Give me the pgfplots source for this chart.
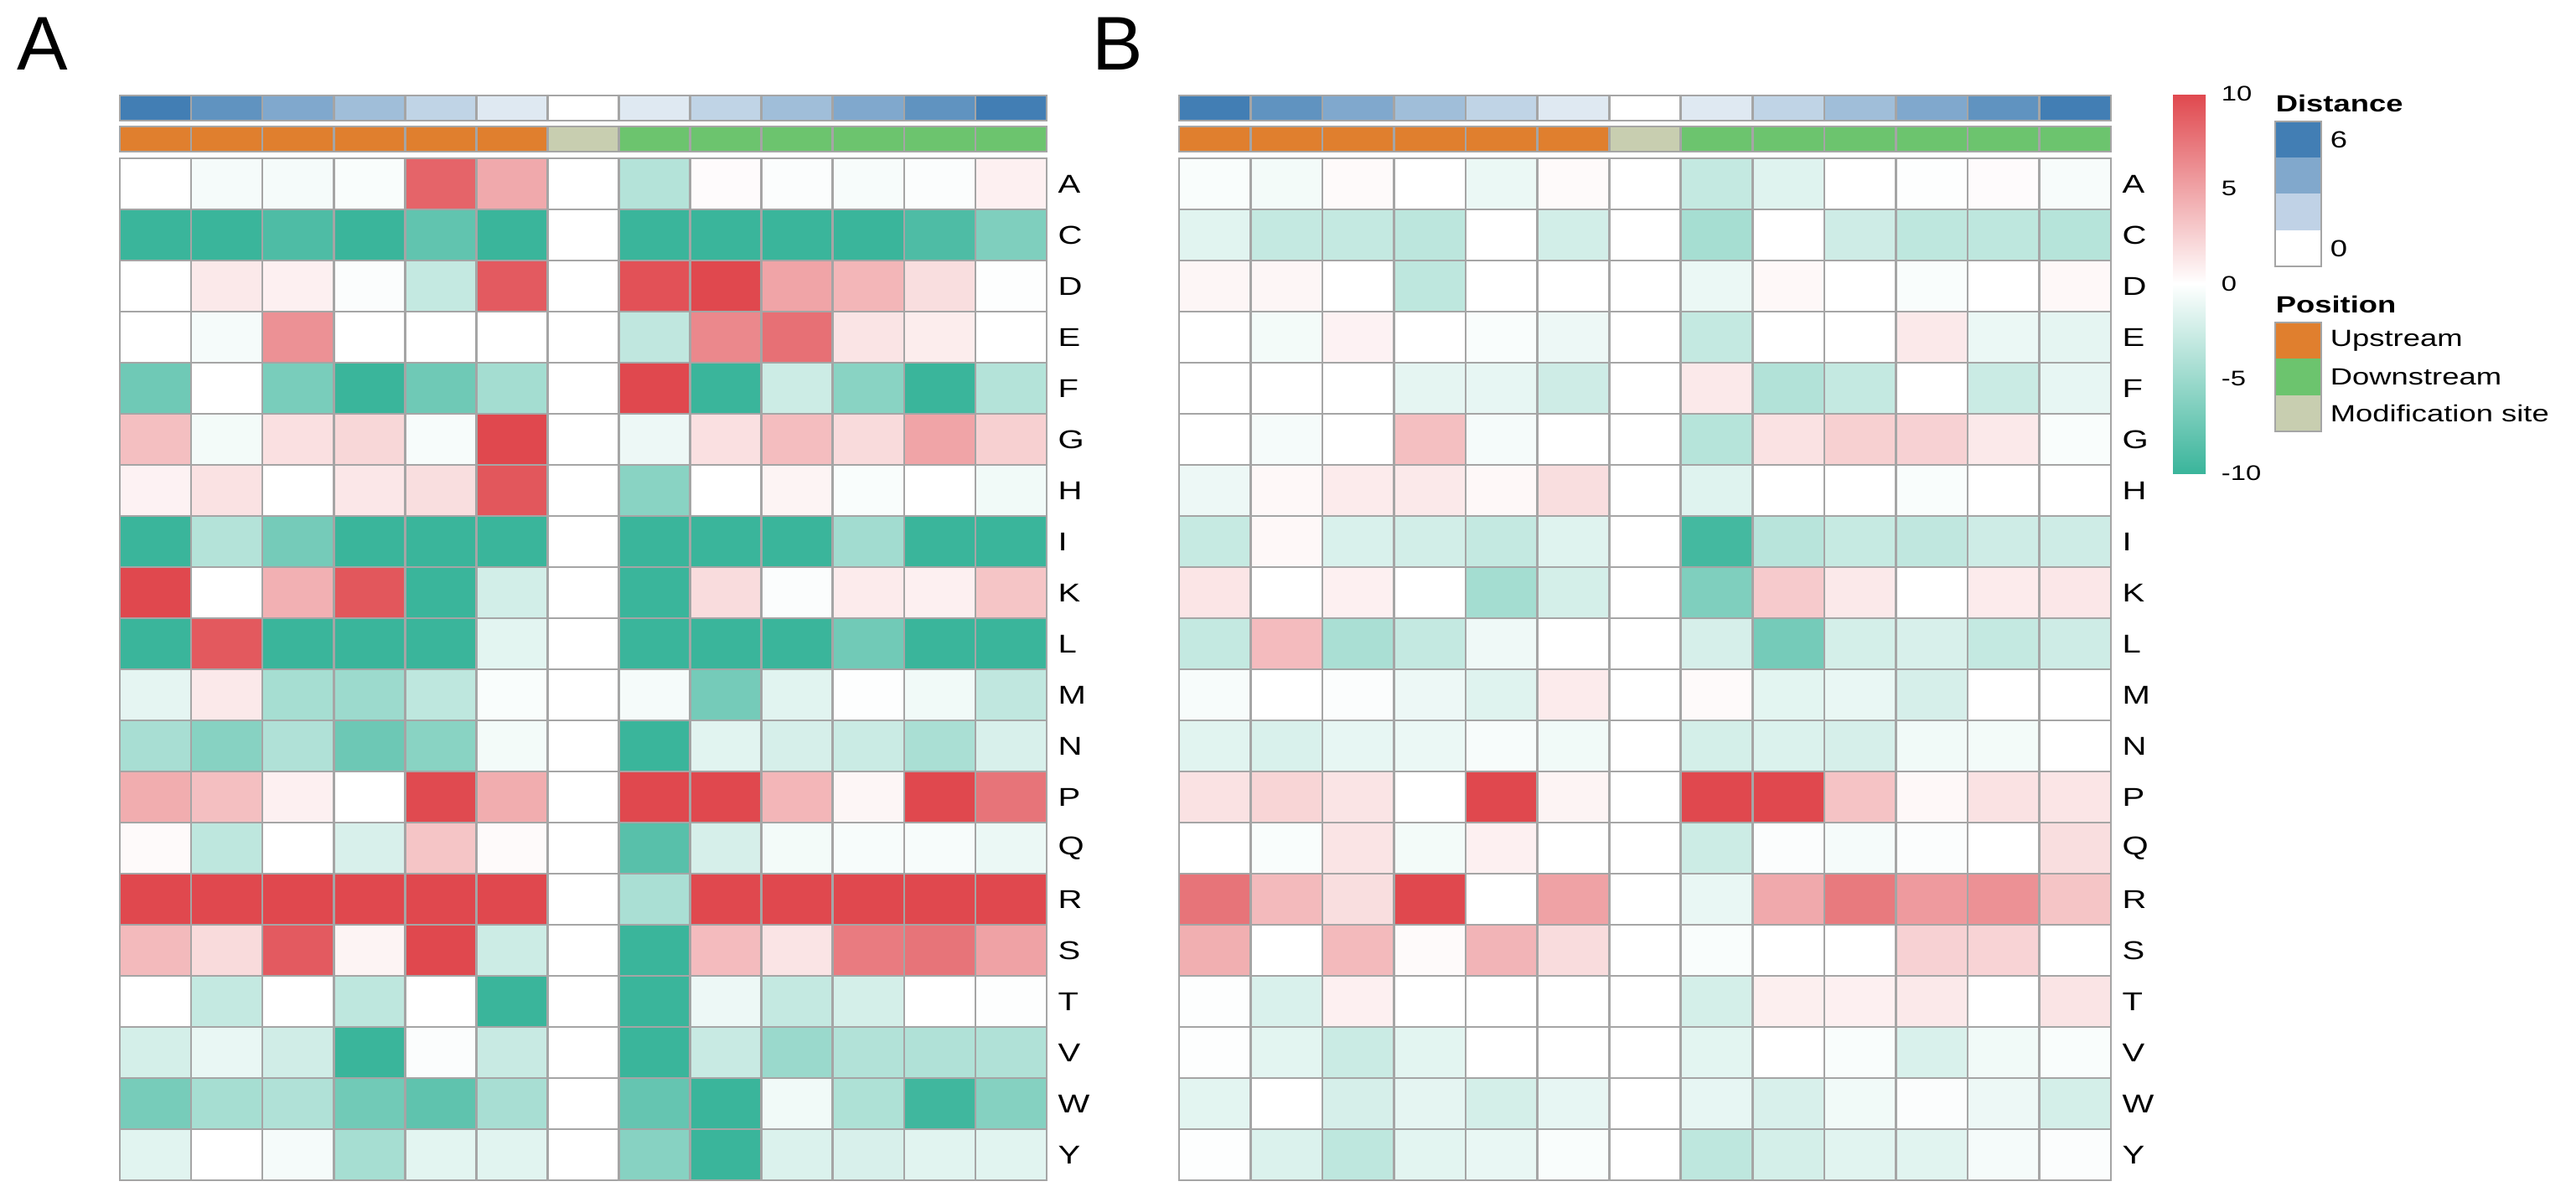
\documentclass[border=0pt]{standalone}
\usepackage{pgfplots}
\pgfplotsset{compat=1.18}
\usepackage{fontspec}
\setmainfont{Liberation Sans}[FakeStretch=1.3]
\newfontfamily\panelfont{Liberation Sans}
\definecolor{gridgray}{RGB}{165,165,165}
\definecolor{dist6}{RGB}{66,126,180}
\definecolor{dist4}{RGB}{129,168,204}
\definecolor{dist2}{RGB}{192,210,230}
\definecolor{upc}{RGB}{224,127,46}
\definecolor{downc}{RGB}{108,196,110}
\definecolor{modc}{RGB}{200,206,176}
\pgfplotsset{
  heatbase/.style={
    scale only axis, anchor=north west,
    xmin=-0.5, xmax=12.5, ymin=-0.5, ymax=19.5, y dir=reverse,
    height=305pt,
    xtick={-0.5,0.5,...,12.5}, xticklabels={},
    xmajorgrids,
    ytick={0,...,19},
    yticklabels={A,C,D,E,F,G,H,I,K,L,M,N,P,Q,R,S,T,V,W,Y},
    yticklabel pos=right,
    yticklabel style={font=\fontsize{7.7}{9}\selectfont, anchor=west, inner sep=0pt, xshift=3.2pt},
    major tick length=0pt, minor tick length=0pt,
    minor ytick={-0.5,0.5,...,19.5},
    yminorgrids,
    major grid style={gridgray, line width=0.65pt},
    minor grid style={gridgray, line width=0.65pt},
    axis line style={gridgray, line width=0.65pt},
    axis on top,
    colormap={heat}{rgb255=(58,181,155) rgb255=(255,255,255) rgb255=(224,72,78)},
    point meta min=-10, point meta max=10,
  },
  annobase/.style={
    scale only axis, anchor=north west,
    xmin=-0.5, xmax=12.5, ymin=-0.5, ymax=1.5,
    height=7.5pt,
    xtick={-0.5,0.5,...,12.5}, xticklabels={},
    ytick=\empty,
    minor tick length=0pt, major tick length=0pt,
    xmajorgrids,
    major grid style={gridgray, line width=0.65pt},
    axis line style={gridgray, line width=0.65pt},
    axis on top,
  },
  distrow/.style={
    colormap={dist}{rgb255=(255,255,255) rgb255=(66,126,180)},
    point meta min=0, point meta max=6,
  },
  posrow/.style={
    colormap={pos}{rgb255=(224,127,46) rgb255=(200,206,176) rgb255=(108,196,110)},
    point meta min=0, point meta max=2,
  },
}
\begin{document}
\begin{tikzpicture}
\path[use as bounding box] (0,0) rectangle (768.5pt,-357pt);

% ---------- Panel A ----------
\node[anchor=base west, inner sep=0pt, font=\panelfont\fontsize{22.7}{26}\selectfont] at (5pt,-20.75pt) {A};

\begin{axis}[annobase, distrow, at={(35.75pt,-28.5pt)}, width=276.5pt]
\addplot[matrix plot*, mesh/cols=13, point meta=explicit] coordinates {
(0,0)[6] (1,0)[5] (2,0)[4] (3,0)[3] (4,0)[2] (5,0)[1] (6,0)[0] (7,0)[1] (8,0)[2] (9,0)[3] (10,0)[4] (11,0)[5] (12,0)[6]
(0,1)[6] (1,1)[5] (2,1)[4] (3,1)[3] (4,1)[2] (5,1)[1] (6,1)[0] (7,1)[1] (8,1)[2] (9,1)[3] (10,1)[4] (11,1)[5] (12,1)[6]
};
\end{axis}

\begin{axis}[annobase, posrow, at={(35.75pt,-37.75pt)}, width=276.5pt]
\addplot[matrix plot*, mesh/cols=13, point meta=explicit] coordinates {
(0,0)[0] (1,0)[0] (2,0)[0] (3,0)[0] (4,0)[0] (5,0)[0] (6,0)[1] (7,0)[2] (8,0)[2] (9,0)[2] (10,0)[2] (11,0)[2] (12,0)[2]
(0,1)[0] (1,1)[0] (2,1)[0] (3,1)[0] (4,1)[0] (5,1)[0] (6,1)[1] (7,1)[2] (8,1)[2] (9,1)[2] (10,1)[2] (11,1)[2] (12,1)[2]
};
\end{axis}

\begin{axis}[heatbase, at={(35.75pt,-47.25pt)}, width=276.5pt]
\addplot[matrix plot*, mesh/cols=13, point meta=explicit] coordinates {
(0,0)[0] (1,0)[-0.5] (2,0)[-0.5] (3,0)[-0.3] (4,0)[8.5] (5,0)[4.7] (6,0)[0] (7,0)[-3.8] (8,0)[0.2] (9,0)[-0.2] (10,0)[-0.4] (11,0)[-0.2] (12,0)[0.8]
(0,1)[-10] (1,1)[-10] (2,1)[-9] (3,1)[-10] (4,1)[-8] (5,1)[-10] (6,1)[0] (7,1)[-10] (8,1)[-10] (9,1)[-10] (10,1)[-10] (11,1)[-9] (12,1)[-6.5]
(0,2)[0] (1,2)[1.2] (2,2)[0.8] (3,2)[-0.2] (4,2)[-3] (5,2)[9] (6,2)[0] (7,2)[9.5] (8,2)[10] (9,2)[5] (10,2)[4] (11,2)[1.8] (12,2)[-0.1]
(0,3)[0] (1,3)[-0.5] (2,3)[6] (3,3)[0] (4,3)[0] (5,3)[0] (6,3)[0] (7,3)[-3.2] (8,3)[6.5] (9,3)[7.8] (10,3)[1.5] (11,3)[1] (12,3)[0]
(0,4)[-7.3] (1,4)[0] (2,4)[-6.8] (3,4)[-10] (4,4)[-7.3] (5,4)[-4.6] (6,4)[0] (7,4)[10] (8,4)[-10] (9,4)[-2.6] (10,4)[-6] (11,4)[-10] (12,4)[-3.8]
(0,5)[3.5] (1,5)[-0.6] (2,5)[1.7] (3,5)[2.2] (4,5)[-0.4] (5,5)[10] (6,5)[0] (7,5)[-0.9] (8,5)[1.7] (9,5)[3.6] (10,5)[2] (11,5)[5] (12,5)[2.6]
(0,6)[0.7] (1,6)[1.6] (2,6)[0] (3,6)[1.3] (4,6)[1.8] (5,6)[9.2] (6,6)[0] (7,6)[-6] (8,6)[0] (9,6)[0.6] (10,6)[-0.3] (11,6)[0] (12,6)[-0.7]
(0,7)[-10] (1,7)[-3.8] (2,7)[-7] (3,7)[-10] (4,7)[-10] (5,7)[-10] (6,7)[0] (7,7)[-10] (8,7)[-10] (9,7)[-10] (10,7)[-4.7] (11,7)[-10] (12,7)[-10]
(0,8)[10] (1,8)[0] (2,8)[4.3] (3,8)[9.2] (4,8)[-10] (5,8)[-2.3] (6,8)[0] (7,8)[-10] (8,8)[1.9] (9,8)[-0.2] (10,8)[1.1] (11,8)[0.8] (12,8)[3.2]
(0,9)[-10] (1,9)[9.1] (2,9)[-10] (3,9)[-10] (4,9)[-10] (5,9)[-1.4] (6,9)[0] (7,9)[-10] (8,9)[-10] (9,9)[-10] (10,9)[-7.2] (11,9)[-10] (12,9)[-10]
(0,10)[-1.3] (1,10)[1.2] (2,10)[-4.5] (3,10)[-5] (4,10)[-3.3] (5,10)[-0.3] (6,10)[0] (7,10)[-0.5] (8,10)[-7] (9,10)[-1.5] (10,10)[-0.1] (11,10)[-0.7] (12,10)[-3.2]
(0,11)[-4.4] (1,11)[-6.1] (2,11)[-4] (3,11)[-7.4] (4,11)[-6] (5,11)[-0.6] (6,11)[0] (7,11)[-10] (8,11)[-1.5] (9,11)[-2.1] (10,11)[-2.7] (11,11)[-4.3] (12,11)[-2]
(0,12)[4.5] (1,12)[3.5] (2,12)[0.8] (3,12)[0] (4,12)[9.9] (5,12)[4.5] (6,12)[0] (7,12)[10] (8,12)[10] (9,12)[4] (10,12)[0.5] (11,12)[10] (12,12)[7.6]
(0,13)[0.3] (1,13)[-3.3] (2,13)[0] (3,13)[-2] (4,13)[3.2] (5,13)[0.3] (6,13)[0] (7,13)[-8.5] (8,13)[-2.1] (9,13)[-0.6] (10,13)[-0.4] (11,13)[-0.4] (12,13)[-1]
(0,14)[10] (1,14)[10] (2,14)[10] (3,14)[10] (4,14)[10] (5,14)[10] (6,14)[0] (7,14)[-4.3] (8,14)[10] (9,14)[10] (10,14)[10] (11,14)[10] (12,14)[10]
(0,15)[3.8] (1,15)[2] (2,15)[9] (3,15)[0.6] (4,15)[10] (5,15)[-2.6] (6,15)[0] (7,15)[-10] (8,15)[3.7] (9,15)[1.5] (10,15)[7.2] (11,15)[7.6] (12,15)[5.1]
(0,16)[0] (1,16)[-3] (2,16)[0] (3,16)[-3.3] (4,16)[0] (5,16)[-10] (6,16)[0] (7,16)[-10] (8,16)[-0.9] (9,16)[-3] (10,16)[-2.2] (11,16)[0] (12,16)[-0.1]
(0,17)[-2.2] (1,17)[-1.1] (2,17)[-2.4] (3,17)[-10] (4,17)[-0.2] (5,17)[-2.8] (6,17)[0] (7,17)[-10] (8,17)[-2.8] (9,17)[-5.1] (10,17)[-3.9] (11,17)[-4] (12,17)[-4]
(0,18)[-6.9] (1,18)[-4.5] (2,18)[-4] (3,18)[-7.2] (4,18)[-8.1] (5,18)[-4.4] (6,18)[0] (7,18)[-7.8] (8,18)[-10] (9,18)[-0.7] (10,18)[-4.1] (11,18)[-9.7] (12,18)[-6.2]
(0,19)[-1.5] (1,19)[0] (2,19)[-0.5] (3,19)[-4.5] (4,19)[-1.4] (5,19)[-1.5] (6,19)[0] (7,19)[-6.1] (8,19)[-10] (9,19)[-1.8] (10,19)[-2] (11,19)[-1.5] (12,19)[-1.5]
};
\end{axis}

% ---------- Panel B ----------
\node[anchor=base west, inner sep=0pt, font=\panelfont\fontsize{22.7}{26}\selectfont] at (325.7pt,-20.75pt) {B};

\begin{axis}[annobase, distrow, at={(351.75pt,-28.5pt)}, width=278pt]
\addplot[matrix plot*, mesh/cols=13, point meta=explicit] coordinates {
(0,0)[6] (1,0)[5] (2,0)[4] (3,0)[3] (4,0)[2] (5,0)[1] (6,0)[0] (7,0)[1] (8,0)[2] (9,0)[3] (10,0)[4] (11,0)[5] (12,0)[6]
(0,1)[6] (1,1)[5] (2,1)[4] (3,1)[3] (4,1)[2] (5,1)[1] (6,1)[0] (7,1)[1] (8,1)[2] (9,1)[3] (10,1)[4] (11,1)[5] (12,1)[6]
};
\end{axis}

\begin{axis}[annobase, posrow, at={(351.75pt,-37.75pt)}, width=278pt]
\addplot[matrix plot*, mesh/cols=13, point meta=explicit] coordinates {
(0,0)[0] (1,0)[0] (2,0)[0] (3,0)[0] (4,0)[0] (5,0)[0] (6,0)[1] (7,0)[2] (8,0)[2] (9,0)[2] (10,0)[2] (11,0)[2] (12,0)[2]
(0,1)[0] (1,1)[0] (2,1)[0] (3,1)[0] (4,1)[0] (5,1)[0] (6,1)[1] (7,1)[2] (8,1)[2] (9,1)[2] (10,1)[2] (11,1)[2] (12,1)[2]
};
\end{axis}

\begin{axis}[heatbase, at={(351.75pt,-47.25pt)}, width=278pt,
  colorbar,
  colorbar style={
    at={(parent axis.north east)}, anchor=north west,
    xshift=10pt, yshift=19.25pt,
    scale only axis, width=9.75pt, height=113.25pt,
    y dir=normal,
    xtick=\empty, xmajorgrids=false,
    ytick={-10,-5,0,5,10}, yticklabels={-10,-5,0,5,10},
    yticklabel pos=right,
    yticklabel style={font=\fontsize{6.3}{7}\selectfont, anchor=west, inner sep=0pt, xshift=4.5pt},
    major tick length=0pt, minor tick length=0pt,
    xminorgrids=false, yminorgrids=false, ymajorgrids=false,
    axis line style={draw=none},
  }]
\addplot[matrix plot*, mesh/cols=13, point meta=explicit] coordinates {
(0,0)[-0.3] (1,0)[-0.6] (2,0)[0.3] (3,0)[0] (4,0)[-1] (5,0)[0.3] (6,0)[0] (7,0)[-3] (8,0)[-1.6] (9,0)[0] (10,0)[-0.1] (11,0)[0.2] (12,0)[-0.4]
(0,1)[-1.5] (1,1)[-3] (2,1)[-3] (3,1)[-3.4] (4,1)[0] (5,1)[-2.3] (6,1)[0] (7,1)[-4.5] (8,1)[0] (9,1)[-2.5] (10,1)[-3.3] (11,1)[-3.3] (12,1)[-3.7]
(0,2)[0.5] (1,2)[0.5] (2,2)[0] (3,2)[-3.3] (4,2)[0] (5,2)[0] (6,2)[0] (7,2)[-1] (8,2)[0.4] (9,2)[0] (10,2)[-0.3] (11,2)[0] (12,2)[0.4]
(0,3)[0] (1,3)[-0.6] (2,3)[0.7] (3,3)[0] (4,3)[-0.3] (5,3)[-0.9] (6,3)[0] (7,3)[-3] (8,3)[0] (9,3)[0] (10,3)[1.2] (11,3)[-1] (12,3)[-1.3]
(0,4)[0] (1,4)[0] (2,4)[0] (3,4)[-1.3] (4,4)[-1.2] (5,4)[-2.5] (6,4)[0] (7,4)[1.2] (8,4)[-3.9] (9,4)[-3] (10,4)[0] (11,4)[-2.7] (12,4)[-1.2]
(0,5)[0] (1,5)[-0.5] (2,5)[0] (3,5)[3.5] (4,5)[-0.5] (5,5)[0] (6,5)[0] (7,5)[-3.7] (8,5)[1.6] (9,5)[2.6] (10,5)[2.5] (11,5)[1.2] (12,5)[-0.3]
(0,6)[-0.9] (1,6)[0.4] (2,6)[1.1] (3,6)[1.2] (4,6)[0.4] (5,6)[1.8] (6,6)[0] (7,6)[-1.6] (8,6)[0] (9,6)[0] (10,6)[-0.3] (11,6)[0] (12,6)[0]
(0,7)[-2.9] (1,7)[0.4] (2,7)[-1.9] (3,7)[-2.3] (4,7)[-3] (5,7)[-1.6] (6,7)[0] (7,7)[-9.5] (8,7)[-3.6] (9,7)[-2.9] (10,7)[-3.2] (11,7)[-2.5] (12,7)[-2.5]
(0,8)[1.4] (1,8)[0] (2,8)[0.8] (3,8)[0] (4,8)[-4.6] (5,8)[-2.2] (6,8)[0] (7,8)[-6.5] (8,8)[2.9] (9,8)[1.2] (10,8)[0] (11,8)[1.1] (12,8)[1.3]
(0,9)[-3] (1,9)[3.7] (2,9)[-4.3] (3,9)[-3] (4,9)[-0.8] (5,9)[0] (6,9)[0] (7,9)[-2.1] (8,9)[-7] (9,9)[-2.2] (10,9)[-2] (11,9)[-3] (12,9)[-2.5]
(0,10)[-0.4] (1,10)[0] (2,10)[-0.2] (3,10)[-0.9] (4,10)[-1.6] (5,10)[1.1] (6,10)[0] (7,10)[0.3] (8,10)[-1.4] (9,10)[-1.1] (10,10)[-2.1] (11,10)[0] (12,10)[0]
(0,11)[-1.5] (1,11)[-1.9] (2,11)[-1.2] (3,11)[-1] (4,11)[-0.4] (5,11)[-0.7] (6,11)[0] (7,11)[-2.2] (8,11)[-1.8] (9,11)[-2.1] (10,11)[-0.7] (11,11)[-0.6] (12,11)[0]
(0,12)[1.6] (1,12)[2.3] (2,12)[1.5] (3,12)[0] (4,12)[10] (5,12)[0.6] (6,12)[0] (7,12)[10] (8,12)[10] (9,12)[3.3] (10,12)[0.4] (11,12)[1.6] (12,12)[1.4]
(0,13)[0] (1,13)[-0.3] (2,13)[1.5] (3,13)[-0.6] (4,13)[0.8] (5,13)[0] (6,13)[0] (7,13)[-2.6] (8,13)[-0.2] (9,13)[-0.5] (10,13)[-0.2] (11,13)[0] (12,13)[1.8]
(0,14)[7.6] (1,14)[3.8] (2,14)[1.8] (3,14)[10] (4,14)[0] (5,14)[5.1] (6,14)[0] (7,14)[-1.1] (8,14)[4.7] (9,14)[7.3] (10,14)[5.5] (11,14)[6] (12,14)[3.2]
(0,15)[4.4] (1,15)[0] (2,15)[3.8] (3,15)[0.3] (4,15)[4.1] (5,15)[1.9] (6,15)[0] (7,15)[-0.3] (8,15)[0] (9,15)[0] (10,15)[2.5] (11,15)[2.4] (12,15)[0]
(0,16)[-0.1] (1,16)[-1.9] (2,16)[0.8] (3,16)[0] (4,16)[0] (5,16)[0] (6,16)[0] (7,16)[-2.2] (8,16)[0.9] (9,16)[0.8] (10,16)[1.2] (11,16)[0] (12,16)[1.5]
(0,17)[-0.1] (1,17)[-1.4] (2,17)[-2.7] (3,17)[-1.4] (4,17)[0] (5,17)[0] (6,17)[0] (7,17)[-1.4] (8,17)[0] (9,17)[-0.3] (10,17)[-1.9] (11,17)[-0.7] (12,17)[-0.3]
(0,18)[-1.4] (1,18)[0] (2,18)[-2.1] (3,18)[-1.3] (4,18)[-2.2] (5,18)[-1.2] (6,18)[0] (7,18)[-1.2] (8,18)[-2] (9,18)[-0.7] (10,18)[-0.2] (11,18)[-0.9] (12,18)[-2.2]
(0,19)[-0.1] (1,19)[-1.8] (2,19)[-3.3] (3,19)[-1.4] (4,19)[-1.1] (5,19)[-0.3] (6,19)[0] (7,19)[-3.3] (8,19)[-2.2] (9,19)[-1.5] (10,19)[-1.5] (11,19)[-0.5] (12,19)[-0.2]
};
\end{axis}

% ---------- Legends ----------
\node[anchor=base west, inner sep=0pt, font=\bfseries\fontsize{7}{8}\selectfont] at (678.75pt,-33.25pt) {Distance};
\fill[dist6] (678.75pt,-36.25pt) rectangle (692.5pt,-47pt);
\fill[dist4] (678.75pt,-47pt) rectangle (692.5pt,-57.75pt);
\fill[dist2] (678.75pt,-57.75pt) rectangle (692.5pt,-68.75pt);
\fill[white] (678.75pt,-68.75pt) rectangle (692.5pt,-79.5pt);
\draw[gridgray, line width=0.6pt] (678.75pt,-36.25pt) rectangle (692.5pt,-79.5pt);
\node[anchor=west, inner sep=0pt, font=\fontsize{7}{8}\selectfont] at (695pt,-41.6pt) {6};
\node[anchor=west, inner sep=0pt, font=\fontsize{7}{8}\selectfont] at (695pt,-74.1pt) {0};

\node[anchor=base west, inner sep=0pt, font=\bfseries\fontsize{7}{8}\selectfont] at (678.75pt,-93.25pt) {Position};
\fill[upc] (678.75pt,-96.25pt) rectangle (692.5pt,-107pt);
\fill[downc] (678.75pt,-107pt) rectangle (692.5pt,-118pt);
\fill[modc] (678.75pt,-118pt) rectangle (692.5pt,-128.75pt);
\draw[gridgray, line width=0.6pt] (678.75pt,-96.25pt) rectangle (692.5pt,-128.75pt);
\node[anchor=west, inner sep=0pt, font=\fontsize{7}{8}\selectfont] at (695pt,-101.6pt) {Upstream};
\node[anchor=west, inner sep=0pt, font=\fontsize{7}{8}\selectfont] at (695pt,-112.5pt) {Downstream};
\node[anchor=west, inner sep=0pt, font=\fontsize{7}{8}\selectfont] at (695pt,-123.4pt) {Modification site};
\end{tikzpicture}
\end{document}
